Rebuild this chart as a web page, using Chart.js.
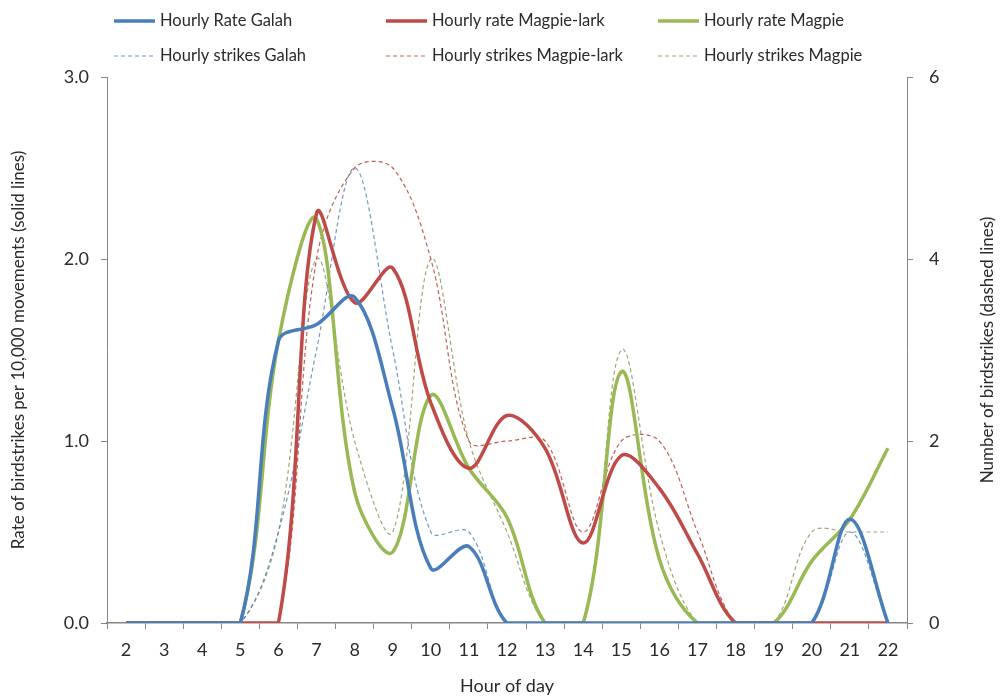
<!DOCTYPE html>
<html>
<head>
<meta charset="utf-8">
<script src="https://cdn.jsdelivr.net/npm/chart.js@4/dist/chart.umd.min.js"></script>
<style>
  html, body { margin: 0; padding: 0; background: #fff; }
  #wrap { width: 1000px; height: 698px; }
</style>
</head>
<body>
<div id="wrap"><canvas id="chart"></canvas></div>
<script>
// hour of day (categories)
const hours = ['2', '3', '4', '5', '6', '7', '8', '9', '10', '11', '12', '13', '14', '15', '16', '17', '18', '19', '20', '21', '22'];

// rate of birdstrikes per 10,000 movements (left axis, solid lines)
const rateGalah  = [0, 0, 0, 0, 1.55, 1.64, 1.79, 1.18, 0.30, 0.42, 0, 0, 0, 0, 0, 0, 0, 0, 0, 0.57, 0];
const rateLark   = [0, 0, 0, 0, 0, 2.25, 1.76, 1.95, 1.21, 0.85, 1.14, 0.96, 0.44, 0.92, 0.74, 0.38, 0, 0, 0, 0, 0];
const rateMagpie = [0, 0, 0, 0, 1.55, 2.22, 0.72, 0.39, 1.25, 0.85, 0.58, 0, 0, 1.38, 0.35, 0, 0, 0, 0.34, 0.57, 0.96];

// number of birdstrikes (right axis, dashed lines)
const strikesGalah  = [0, 0, 0, 0, 1, 3, 5, 3, 1, 1, 0, 0, 0, 0, 0, 0, 0, 0, 0, 1, 0];
const strikesLark   = [0, 0, 0, 0, 0, 4, 5, 5, 4, 2, 2, 2, 1, 2, 2, 1, 0, 0, 0, 0, 0];
const strikesMagpie = [0, 0, 0, 0, 1, 4, 2, 1, 4, 2, 1, 0, 0, 3, 1, 0, 0, 0, 1, 1, 1];

const leftTicks = [0, 1, 2, 3];
const rightTicks = [0, 2, 4, 6];

const FONT = 'Lato';
const TXT = '#2b2b2b';
const AXIS = '#868686';

const BLUE = '#4A7EBB', RED = '#BE4B48', GREEN = '#98B954';

function solid(label, data, color) {
    return { label, data, yAxisID: 'y', borderColor: color, borderWidth: 3.5, pointRadius: 0, tension: 0.35, fill: false };
}
function dashed(label, data, color) {
    return { label, data, yAxisID: 'y2', borderColor: color, borderWidth: 1.2, borderDash: [4, 3], pointRadius: 0, tension: 0.35, fill: false };
}

// legend in two rows of three, plus the right axis title read bottom-to-top
const extras = {
    id: 'extras',
    afterDraw(chart) {
        const ctx = chart.ctx;
        const cols = [160, 432, 704];
        const rows = [21, 56];
        chart.data.datasets.forEach((ds, i) => {
            const tx = cols[i % 3], ty = rows[Math.floor(i / 3)];
            ctx.save();
            ctx.strokeStyle = ds.borderColor;
            ctx.lineWidth = ds.borderDash ? 1.2 : 3.5;
            ctx.setLineDash(ds.borderDash || []);
            ctx.beginPath();
            ctx.moveTo(tx - 46, ty);
            ctx.lineTo(tx - 5, ty);
            ctx.stroke();
            ctx.setLineDash([]);
            ctx.fillStyle = TXT;
            ctx.font = '16.5px ' + FONT;
            ctx.textBaseline = 'middle';
            ctx.fillText(ds.label, tx, ty);
            ctx.restore();
        });
        const s = chart.scales.y2;
        ctx.save();
        ctx.translate(988, (s.top + s.bottom) / 2);
        ctx.rotate(-Math.PI / 2);
        ctx.textAlign = 'center';
        ctx.textBaseline = 'middle';
        ctx.font = '17px ' + FONT;
        ctx.fillStyle = TXT;
        ctx.fillText('Number of birdstrikes (dashed lines)', 0, 0);
        ctx.restore();
    }
};

new Chart(document.getElementById('chart'), {
    type: 'line',
    data: {
        labels: hours,
        datasets: [
            solid('Hourly Rate Galah', rateGalah, BLUE),
            solid('Hourly rate Magpie-lark', rateLark, RED),
            solid('Hourly rate Magpie', rateMagpie, GREEN),
            dashed('Hourly strikes Galah', strikesGalah, 'rgba(74,126,187,0.8)'),
            dashed('Hourly strikes Magpie-lark', strikesLark, 'rgba(190,75,72,0.9)'),
            dashed('Hourly strikes Magpie', strikesMagpie, 'rgba(140,150,90,0.85)')
        ]
    },
    options: {
        responsive: true,
        maintainAspectRatio: false,
        animation: false,
        layout: { padding: { top: 77, left: 0, right: 0, bottom: 0 } },
        plugins: {
            legend: { display: false },
            tooltip: { enabled: false }
        },
        scales: {
            x: {
                offset: true,
                afterFit: s => { s.height = 75; },
                grid: { offset: true, drawOnChartArea: false, drawTicks: true, tickLength: 6, color: AXIS },
                border: { display: true, color: AXIS, width: 1.5 },
                ticks: { color: TXT, padding: 10, maxRotation: 0, autoSkip: false, font: { family: FONT, size: 18 } },
                title: { display: true, text: 'Hour of day', color: TXT, font: { family: FONT, size: 18 }, padding: { top: 0, bottom: 1 } }
            },
            y: {
                position: 'left',
                min: 0, max: 3,
                afterFit: s => { s.width = 107; },
                afterBuildTicks: s => { s.ticks = leftTicks.map(v => ({ value: v })); },
                grid: { drawOnChartArea: false, drawTicks: true, tickLength: 6, color: AXIS },
                border: { display: true, color: AXIS, width: 1 },
                ticks: { color: TXT, padding: 12, font: { family: FONT, size: 18 }, callback: v => v.toFixed(1) },
                title: { display: true, text: 'Rate of birdstrikes per 10,000 movements (solid lines)', color: TXT, font: { family: FONT, size: 17 }, padding: { top: 8, bottom: 0 } }
            },
            y2: {
                position: 'right',
                min: 0, max: 6,
                afterFit: s => { s.width = 93; },
                afterBuildTicks: s => { s.ticks = rightTicks.map(v => ({ value: v })); },
                grid: { drawOnChartArea: false, drawTicks: true, tickLength: 6, color: AXIS },
                border: { display: true, color: AXIS, width: 1 },
                ticks: { color: TXT, padding: 16, font: { family: FONT, size: 18 } }
            }
        }
    },
    plugins: [extras]
});
</script>
</body>
</html>
